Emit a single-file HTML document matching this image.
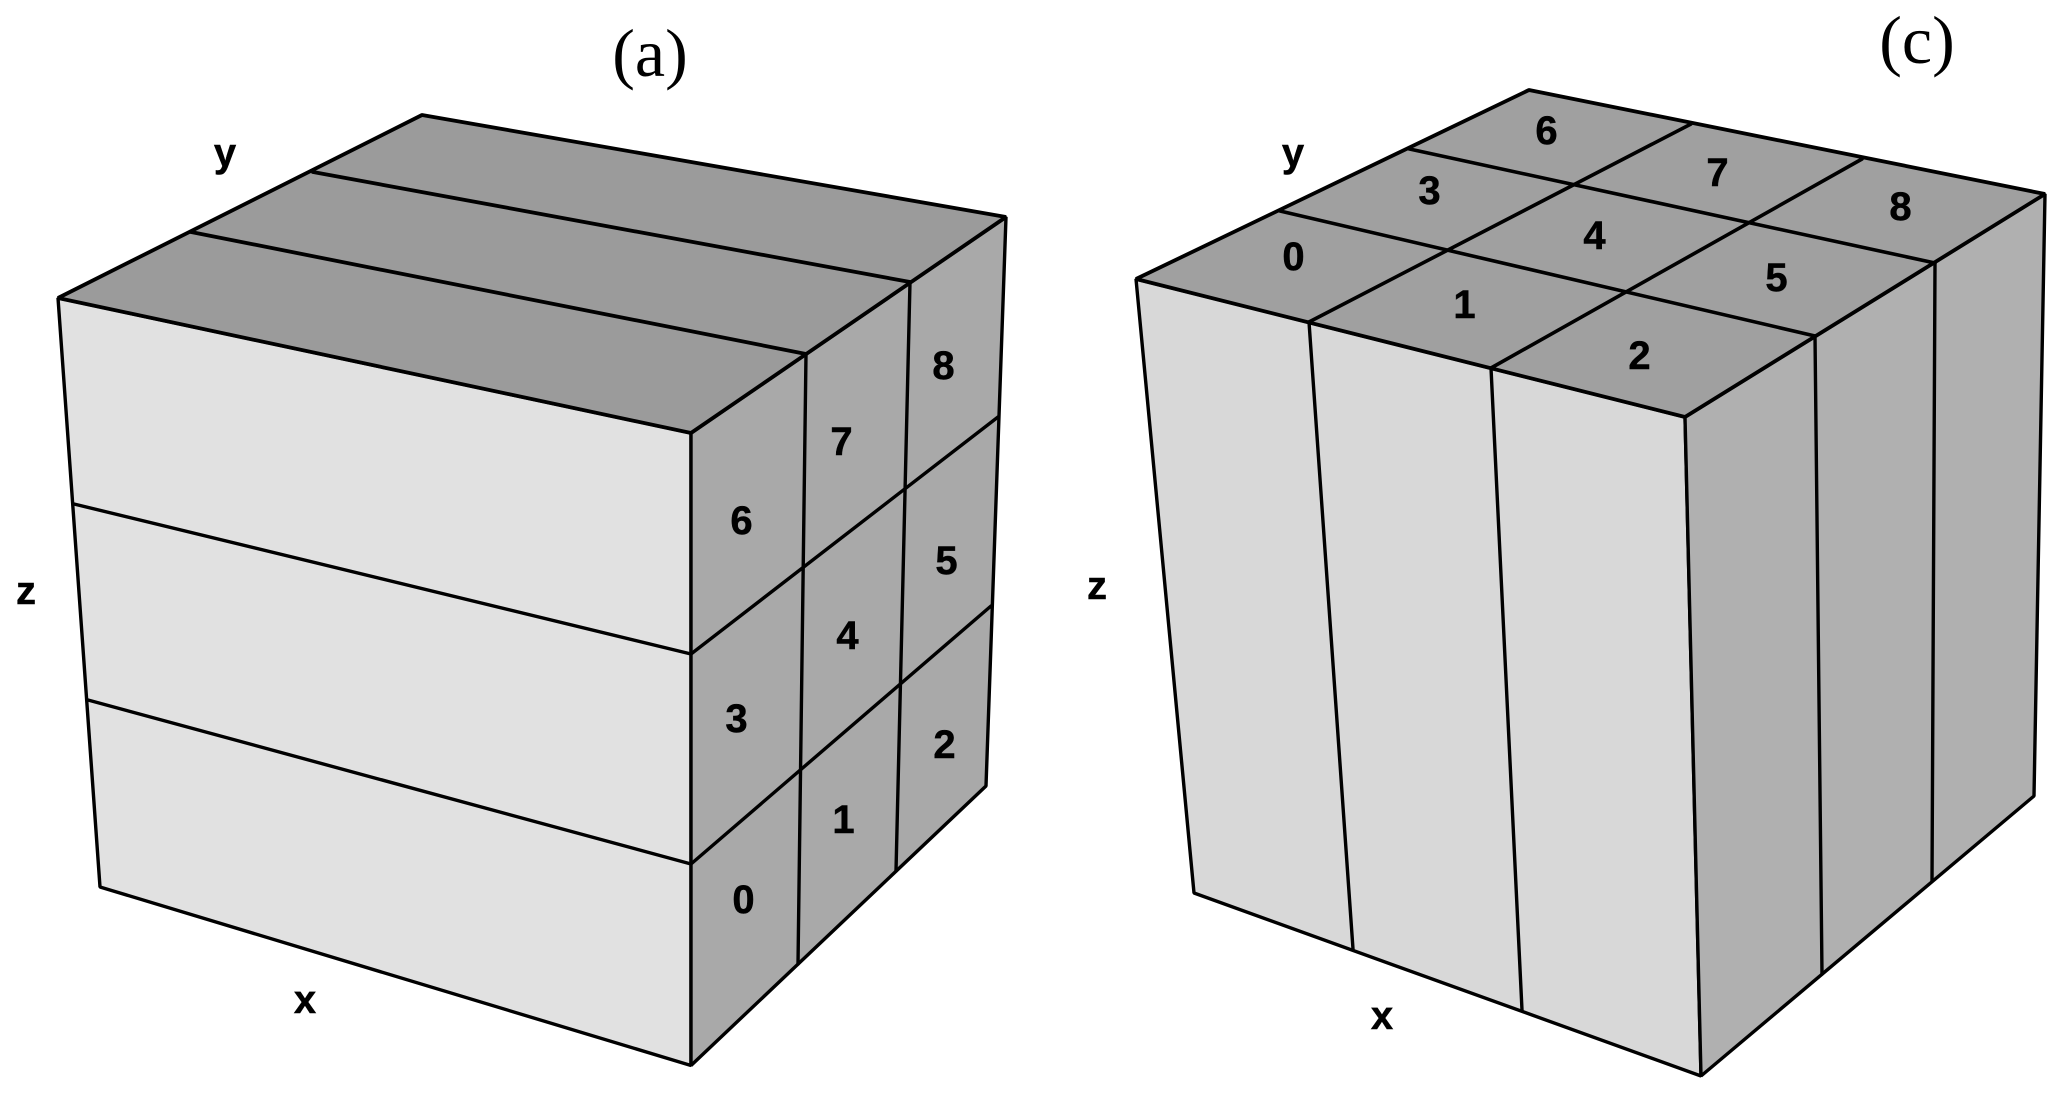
<!DOCTYPE html>
<html>
<head>
<meta charset="utf-8">
<style>
html,body{margin:0;padding:0;background:#fff;width:2067px;height:1098px;overflow:hidden}
svg{display:block}
.l{font:bold 40px "Liberation Sans",sans-serif;fill:#000;stroke:#000;stroke-width:.5;text-anchor:middle}
.t{font:68px "Liberation Serif",serif;fill:#000;text-anchor:middle}
line,polygon{stroke:#000;stroke-width:3.4;stroke-linejoin:bevel;stroke-linecap:round}
</style>
</head>
<body>
<svg width="2067" height="1098" viewBox="0 0 2067 1098" xmlns="http://www.w3.org/2000/svg">
<rect width="2067" height="1098" fill="#fff" style="stroke:none"/>

<!-- Cube (a) -->
<polygon points="58,298 691,433 691,1065.5 100,887" fill="#e1e1e1"/>
<polygon points="691,433 1006,217 986,786 691,1065.5" fill="#a9a9a9"/>
<polygon points="422,115 1006,217 691,433 58,298" fill="#9b9b9b" style="stroke-width:3.8"/>
<line x1="313" y1="172" x2="910" y2="282" style="stroke-width:3.8"/>
<line x1="191" y1="232" x2="806" y2="354" style="stroke-width:3.8"/>
<line x1="74" y1="504" x2="691" y2="654"/>
<line x1="88" y1="700" x2="691" y2="864"/>
<line x1="806" y1="354" x2="798" y2="964"/>
<line x1="910" y1="282" x2="896" y2="871"/>
<line x1="691" y1="654" x2="998" y2="417"/>
<line x1="691" y1="864" x2="991" y2="606"/>

<text class="t" x="650" y="76">(a)</text>
<text class="l" x="225" y="166">y</text>
<text class="l" x="26" y="604">z</text>
<text class="l" x="305" y="1013">x</text>
<g transform="translate(0.5,-1)">
<text class="l" x="943" y="380">8</text>
<text class="l" x="841" y="456">7</text>
<text class="l" x="741" y="535">6</text>
<text class="l" x="946" y="575">5</text>
<text class="l" x="847" y="650">4</text>
<text class="l" x="736" y="733">3</text>
<text class="l" x="944" y="759">2</text>
<text class="l" x="843" y="834">1</text>
<text class="l" x="743" y="914">0</text>
</g>

<!-- Cube (c) -->
<polygon points="1136,279 1685,417 1701,1076 1194,893" fill="#d8d8d8"/>
<polygon points="1685,417 2045,194 2034,796 1701,1076" fill="#b0b0b0"/>
<polygon points="1529,90 2045,194 1685,417 1136,279" fill="#a0a0a0" style="stroke-width:3.8"/>
<line x1="1409.5" y1="149" x2="1935" y2="263" style="stroke-width:3.6"/>
<line x1="1280" y1="211" x2="1815" y2="336" style="stroke-width:3.6"/>
<line x1="1309" y1="322" x2="1691" y2="124" style="stroke-width:3.6"/>
<line x1="1491" y1="368" x2="1862" y2="159" style="stroke-width:3.6"/>
<line x1="1309" y1="322" x2="1353" y2="949"/>
<line x1="1491" y1="368" x2="1522" y2="1010"/>
<line x1="1815" y1="336" x2="1822" y2="974"/>
<line x1="1935" y1="263" x2="1932" y2="881"/>

<text class="t" x="1917" y="63">(c)</text>
<text class="l" x="1293" y="166">y</text>
<text class="l" x="1097" y="599">z</text>
<text class="l" x="1382" y="1029">x</text>
<g transform="translate(0.5,-1)">
<text class="l" x="1546" y="145">6</text>
<text class="l" x="1717" y="187">7</text>
<text class="l" x="1900" y="221">8</text>
<text class="l" x="1429" y="205">3</text>
<text class="l" x="1594" y="250">4</text>
<text class="l" x="1776" y="292">5</text>
<text class="l" x="1293" y="271">0</text>
<text class="l" x="1464" y="319">1</text>
<text class="l" x="1639" y="370">2</text>
</g>
</svg>
</body>
</html>
